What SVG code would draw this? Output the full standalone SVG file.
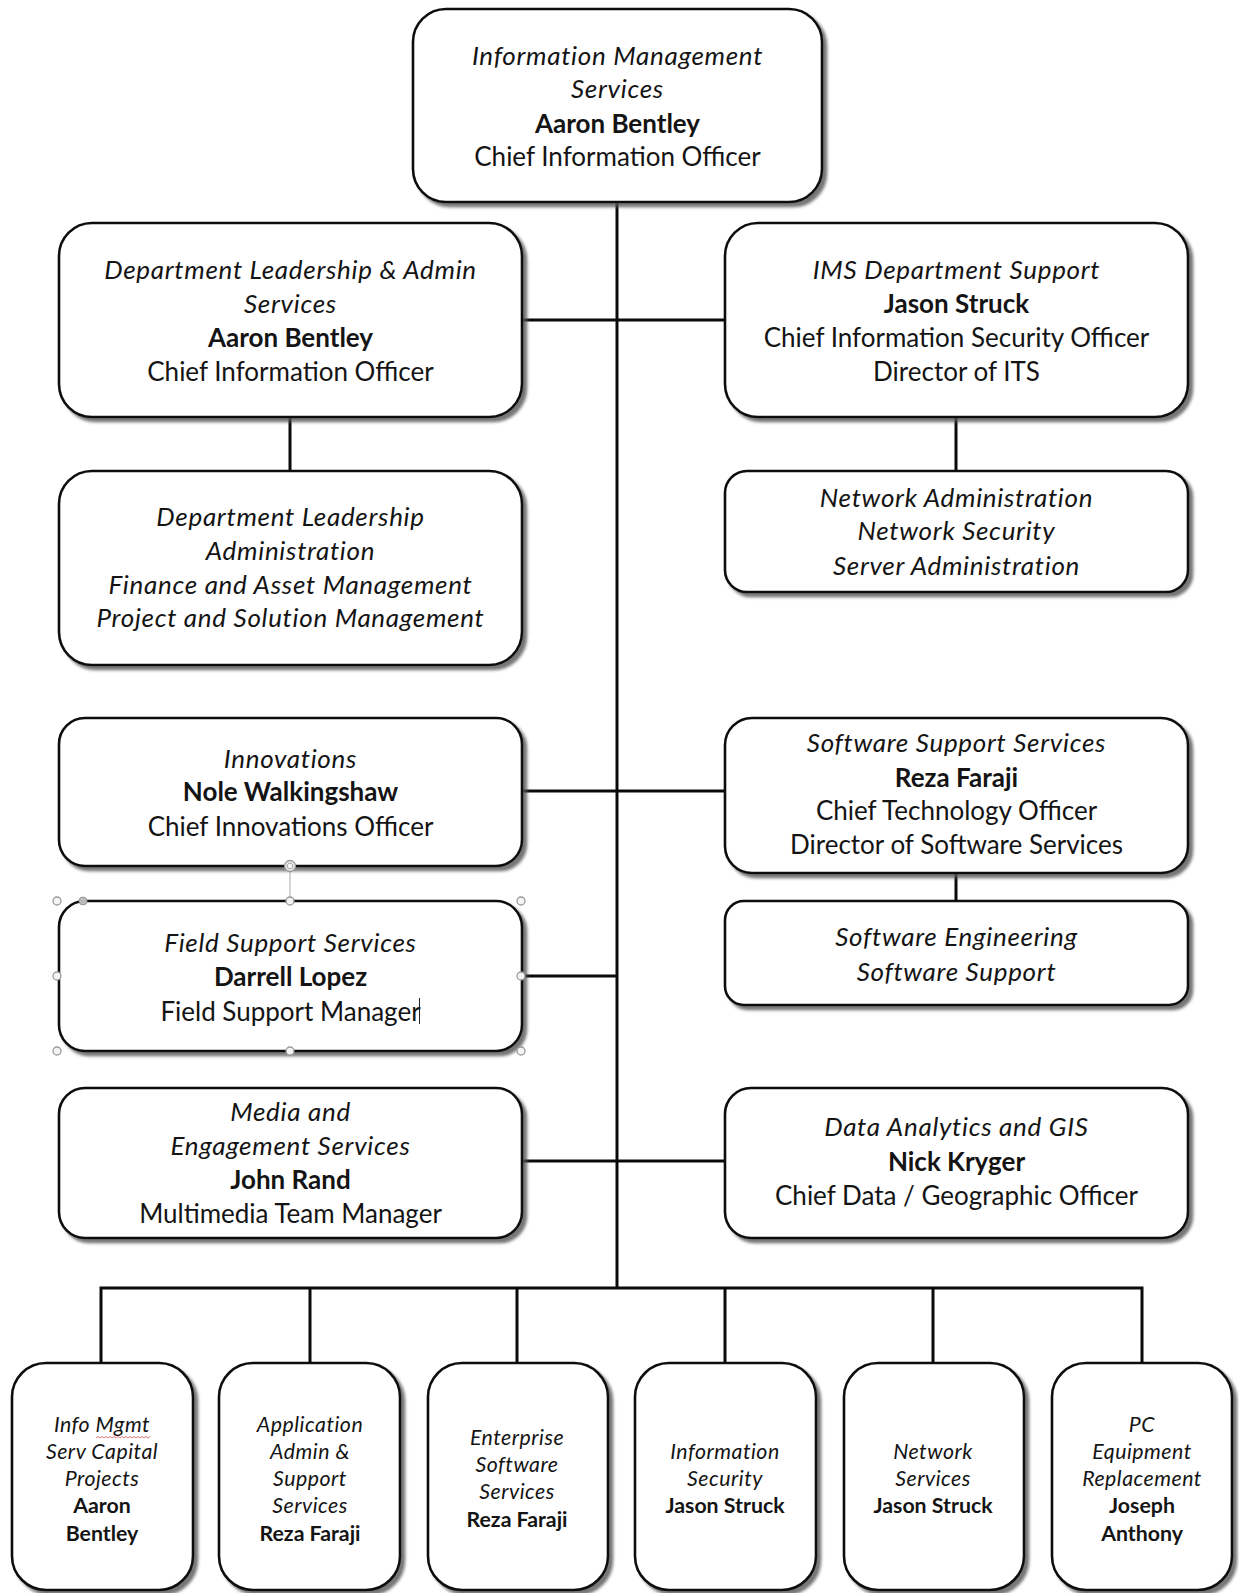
<svg xmlns="http://www.w3.org/2000/svg" width="1239" height="1593" viewBox="0 0 1239 1593">
  <defs>
    <filter id="sh" x="-10%" y="-10%" width="125%" height="125%">
      <feDropShadow dx="4" dy="4" stdDeviation="1.6" flood-color="#555" flood-opacity="0.8"/>
    </filter>
    <style>
      .box { fill: #fff; stroke: #111; stroke-width: 2.6; filter: url(#sh); }
      .ln { fill: none; stroke: #0a0a0a; stroke-width: 3; }
      .t { font-family: Lato, "Liberation Sans", sans-serif; font-size: 26px; fill: #141414; text-anchor: middle; }
      .i { font-style: italic; letter-spacing: 0.7px; }
      .b { font-weight: bold; }
      .s { font-size: 21.3px; }
      .s.i { letter-spacing: 0.5px; }
      .hd { fill: #f4f4f4; stroke: #9a9a9a; stroke-width: 1.3; }
    </style>
  </defs>
  <rect width="1239" height="1593" fill="#fff"/>

  <!-- connectors -->
  <g id="connectors">
    <path class="ln" d="M617,202 V1288"/>
    <path class="ln" d="M522,320 H725"/>
    <path class="ln" d="M290,417 V471"/>
    <path class="ln" d="M956,417 V471"/>
    <path class="ln" d="M522,791 H725"/>
    <path class="ln" d="M956,873 V901"/>
    <path class="ln" d="M522,976 H617"/>
    <path class="ln" d="M522,1161 H725"/>
    <path class="ln" d="M101,1363 V1288 H1142 V1363"/>
    <path class="ln" d="M310,1288 V1363"/>
    <path class="ln" d="M517,1288 V1363"/>
    <path class="ln" d="M725,1288 V1363"/>
    <path class="ln" d="M933,1288 V1363"/>
  </g>

  <!-- top -->
  <g id="ims">
    <rect class="box" x="413" y="9" width="409" height="193" rx="33"/>
    <text class="t i" x="617.5" y="65">Information Management</text>
    <text class="t i" x="617.5" y="98">Services</text>
    <text class="t b" x="617.5" y="133">Aaron Bentley</text>
    <text class="t" x="617.5" y="166">Chief Information Officer</text>
  </g>

  <g id="dept-leadership-admin">
    <rect class="box" x="59" y="223" width="463" height="194" rx="33"/>
    <text class="t i" x="290.5" y="279">Department Leadership &amp; Admin</text>
    <text class="t i" x="290.5" y="313">Services</text>
    <text class="t b" x="290.5" y="347">Aaron Bentley</text>
    <text class="t" x="290.5" y="381">Chief Information Officer</text>
  </g>

  <g id="ims-dept-support">
    <rect class="box" x="725" y="223" width="463" height="194" rx="33"/>
    <text class="t i" x="956.5" y="279">IMS Department Support</text>
    <text class="t b" x="956.5" y="313">Jason Struck</text>
    <text class="t" x="956.5" y="347">Chief Information Security Officer</text>
    <text class="t" x="956.5" y="381">Director of ITS</text>
  </g>

  <g id="dept-leadership-units">
    <rect class="box" x="59" y="471" width="463" height="194" rx="33"/>
    <text class="t i" x="290.5" y="526">Department Leadership</text>
    <text class="t i" x="290.5" y="560">Administration</text>
    <text class="t i" x="290.5" y="594">Finance and Asset Management</text>
    <text class="t i" x="290.5" y="627">Project and Solution Management</text>
  </g>

  <g id="network-units">
    <rect class="box" x="725" y="471" width="463" height="121" rx="22"/>
    <text class="t i" x="956.5" y="507">Network Administration</text>
    <text class="t i" x="956.5" y="540">Network Security</text>
    <text class="t i" x="956.5" y="575">Server Administration</text>
  </g>

  <g id="innovations">
    <rect class="box" x="59" y="718" width="463" height="148" rx="26"/>
    <text class="t i" x="290.5" y="768">Innovations</text>
    <text class="t b" x="290.5" y="801">Nole Walkingshaw</text>
    <text class="t" x="290.5" y="836">Chief Innovations Officer</text>
  </g>

  <g id="software-support">
    <rect class="box" x="725" y="718" width="463" height="155" rx="27"/>
    <text class="t i" x="956.5" y="752">Software Support Services</text>
    <text class="t b" x="956.5" y="787">Reza Faraji</text>
    <text class="t" x="956.5" y="820">Chief Technology Officer</text>
    <text class="t" x="956.5" y="854">Director of Software Services</text>
  </g>

  <g id="field-support">
    <rect class="box" x="59" y="901" width="463" height="150" rx="26"/>
    <text class="t i" x="290.5" y="952">Field Support Services</text>
    <text class="t b" x="290.5" y="986">Darrell Lopez</text>
    <text class="t" x="290.5" y="1021">Field Support Manager</text>
    <!-- text caret -->
    <path d="M419.5,998 V1024" stroke="#222" stroke-width="1"/>
    <!-- selection handles -->
    <path d="M290,870 V901" stroke="#aaa" stroke-width="1"/>
    <circle cx="290" cy="866" r="5.5" fill="#e8e8e8" stroke="#999" stroke-width="1.3"/>
    <circle cx="290" cy="866" r="2.8" fill="#f8f8f8" stroke="#aaa" stroke-width="1"/>
    <circle class="hd" cx="57" cy="901" r="4"/>
    <circle class="hd" cx="290" cy="901" r="4"/>
    <circle class="hd" cx="521" cy="901" r="4"/>
    <circle class="hd" cx="57" cy="976" r="4"/>
    <circle class="hd" cx="521" cy="976" r="4"/>
    <circle class="hd" cx="57" cy="1051" r="4"/>
    <circle class="hd" cx="290" cy="1051" r="4"/>
    <circle class="hd" cx="521" cy="1051" r="4"/>
    <circle cx="83" cy="901" r="4" fill="#bbb" stroke="#999" stroke-width="1"/>
  </g>

  <g id="software-units">
    <rect class="box" x="725" y="901" width="463" height="104" rx="19"/>
    <text class="t i" x="956.5" y="946">Software Engineering</text>
    <text class="t i" x="956.5" y="981">Software Support</text>
  </g>

  <g id="media">
    <rect class="box" x="59" y="1088" width="463" height="150" rx="26"/>
    <text class="t i" x="290.5" y="1121">Media and</text>
    <text class="t i" x="290.5" y="1155">Engagement Services</text>
    <text class="t b" x="290.5" y="1189">John Rand</text>
    <text class="t" x="290.5" y="1223">Multimedia Team Manager</text>
  </g>

  <g id="data-analytics">
    <rect class="box" x="725" y="1088" width="463" height="150" rx="26"/>
    <text class="t i" x="956.5" y="1136">Data Analytics and GIS</text>
    <text class="t b" x="956.5" y="1171">Nick Kryger</text>
    <text class="t" x="956.5" y="1205">Chief Data / Geographic Officer</text>
  </g>

  <!-- bottom row -->
  <g id="capital-projects">
    <rect class="box" x="12" y="1363" width="181" height="227" rx="34"/>
    <text class="t s i" x="102" y="1432">Info Mgmt</text>
    <!-- spell-check squiggle under "Mgmt" -->
    <path d="M96,1438 l2,-1.5 l2,1.5 l2,-1.5 l2,1.5 l2,-1.5 l2,1.5 l2,-1.5 l2,1.5 l2,-1.5 l2,1.5 l2,-1.5 l2,1.5 l2,-1.5 l2,1.5 l2,-1.5 l2,1.5 l2,-1.5 l2,1.5 l2,-1.5 l2,1.5 l2,-1.5 l2,1.5 l2,-1.5 l2,1.5 l2,-1.5 l2,1.5 l2,-1.5" fill="none" stroke="#e07a7a" stroke-width="1"/>
    <text class="t s i" x="102" y="1459">Serv Capital</text>
    <text class="t s i" x="102" y="1486">Projects</text>
    <text class="t s b" x="102" y="1513">Aaron</text>
    <text class="t s b" x="102" y="1541">Bentley</text>
  </g>

  <g id="app-admin">
    <rect class="box" x="219" y="1363" width="181" height="227" rx="34"/>
    <text class="t s i" x="310" y="1432">Application</text>
    <text class="t s i" x="310" y="1459">Admin &amp;</text>
    <text class="t s i" x="310" y="1486">Support</text>
    <text class="t s i" x="310" y="1513">Services</text>
    <text class="t s b" x="310" y="1541">Reza Faraji</text>
  </g>

  <g id="enterprise-software">
    <rect class="box" x="428" y="1363" width="180" height="227" rx="34"/>
    <text class="t s i" x="517" y="1445">Enterprise</text>
    <text class="t s i" x="517" y="1472">Software</text>
    <text class="t s i" x="517" y="1499">Services</text>
    <text class="t s b" x="517" y="1527">Reza Faraji</text>
  </g>

  <g id="info-security">
    <rect class="box" x="635" y="1363" width="181" height="227" rx="34"/>
    <text class="t s i" x="725" y="1459">Information</text>
    <text class="t s i" x="725" y="1486">Security</text>
    <text class="t s b" x="725" y="1513">Jason Struck</text>
  </g>

  <g id="network-services">
    <rect class="box" x="844" y="1363" width="180" height="227" rx="34"/>
    <text class="t s i" x="933" y="1459">Network</text>
    <text class="t s i" x="933" y="1486">Services</text>
    <text class="t s b" x="933" y="1513">Jason Struck</text>
  </g>

  <g id="pc-replacement">
    <rect class="box" x="1052" y="1363" width="180" height="227" rx="34"/>
    <text class="t s i" x="1142" y="1432">PC</text>
    <text class="t s i" x="1142" y="1459">Equipment</text>
    <text class="t s i" x="1142" y="1486">Replacement</text>
    <text class="t s b" x="1142" y="1513">Joseph</text>
    <text class="t s b" x="1142" y="1541">Anthony</text>
  </g>
</svg>
